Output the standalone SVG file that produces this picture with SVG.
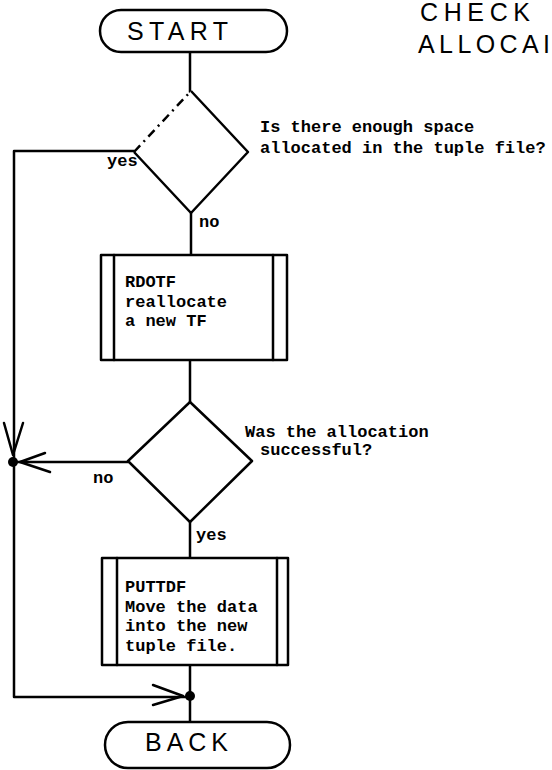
<svg xmlns="http://www.w3.org/2000/svg" width="552" height="770" viewBox="0 0 552 770">
<defs>
<style>
.ln{fill:none;stroke:#000;stroke-width:2.5;stroke-linecap:round;stroke-linejoin:round}
.sh{fill:#fff;stroke:#000;stroke-width:2.5;stroke-linejoin:round}
.t{font-family:"Liberation Mono","DejaVu Sans Mono",monospace;font-weight:bold;font-size:17px;fill:#000}
.h{font-family:"Liberation Sans","DejaVu Sans",sans-serif;font-size:25px;fill:#000}
</style>
</defs>
<rect width="552" height="770" fill="#fff"/>
<g id="title">
<text class="h" x="420" y="21" font-size="19" textLength="110" lengthAdjust="spacing">CHECK</text>
<text class="h" x="418" y="53" font-size="22" textLength="132" lengthAdjust="spacing">ALLOCAI</text>
</g>
<g id="connectors">
<path class="ln" d="M190 52 V92"/>
<path class="ln" d="M191 213 V255"/>
<path class="ln" d="M190 360 V402"/>
<path class="ln" d="M190 522 V558"/>
<path class="ln" d="M190 665 V722"/>
<path class="ln" d="M134 151 H14 V697 H190"/>
<path class="ln" d="M128 462 H14"/>
<path class="ln" d="M4 423 L13 455 L23 423"/>
<path class="ln" d="M45 453 L20 462 L50 472"/>
<path class="ln" d="M153 685 L183 696 L153 705"/>
<circle cx="13" cy="462" r="5" fill="#000"/>
<circle cx="190" cy="696" r="5" fill="#000"/>
</g>
<g id="start">
<rect class="sh" x="100" y="10" width="187" height="42" rx="21"/>
<text class="h" x="127" y="40" textLength="101" lengthAdjust="spacing">START</text>
</g>
<g id="decision1">
<path class="sh" d="M191 91 L248 152 L191 213 L134 152"/>
<path fill="none" stroke="#000" stroke-width="2.5" stroke-dasharray="9 5 2 5" d="M134 152 L191 91"/>
<text class="t" x="260" y="132">Is there enough space</text>
<text class="t" x="260" y="153">allocated in the tuple file?</text>
<text class="t" x="107" y="166" font-size="16">yes</text>
<text class="t" x="199" y="227" font-size="16">no</text>
</g>
<g id="rdotf">
<rect class="sh" x="101" y="255" width="186" height="105"/>
<path class="ln" d="M114 255 V360 M273 255 V360"/>
<text class="t" x="125" y="287">RDOTF</text>
<text class="t" x="125" y="307">reallocate</text>
<text class="t" x="125" y="326">a new TF</text>
</g>
<g id="decision2">
<path class="sh" d="M190 402 L252 461 L190 522 L128 461 Z"/>
<text class="t" x="245" y="437">Was the allocation</text>
<text class="t" x="260" y="455">successful?</text>
<text class="t" x="93" y="483" font-size="16">no</text>
<text class="t" x="196" y="540" font-size="16">yes</text>
</g>
<g id="puttdf">
<rect class="sh" x="102" y="558" width="186" height="107"/>
<path class="ln" d="M117 558 V665 M277 558 V665"/>
<text class="t" x="125" y="592">PUTTDF</text>
<text class="t" x="125" y="612">Move the data</text>
<text class="t" x="125" y="631">into the new</text>
<text class="t" x="125" y="651">tuple file.</text>
</g>
<g id="back">
<rect class="sh" x="105" y="722" width="185" height="46" rx="23"/>
<text class="h" x="145" y="751" font-size="26" textLength="83" lengthAdjust="spacing">BACK</text>
</g>
</svg>
